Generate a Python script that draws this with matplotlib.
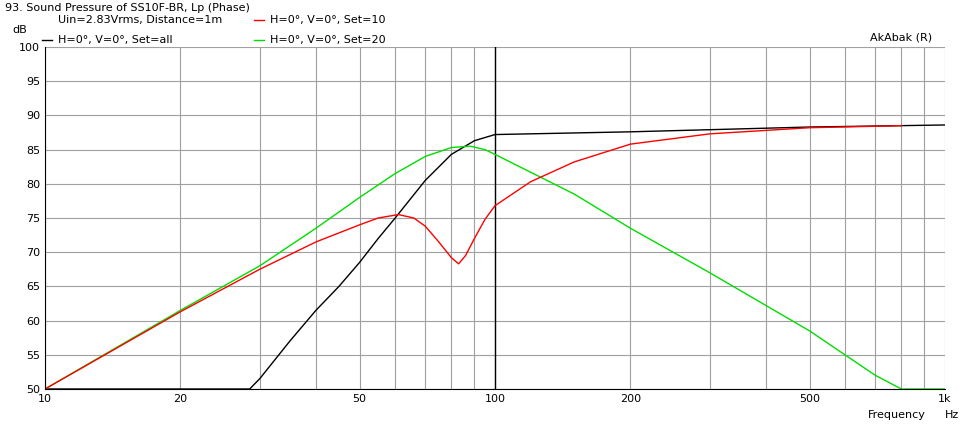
import matplotlib
matplotlib.use("Agg")
import matplotlib.pyplot as plt
import numpy as np

black_f = [10, 28.5, 30, 35, 40, 45, 50, 55, 60, 70, 80, 90, 100, 200, 500, 1000]
black_db = [50, 50, 51.5, 57, 61.5, 65, 68.5, 72, 75, 80.5, 84.3, 86.3, 87.2, 87.6, 88.3, 88.6]
red_f = [10, 20, 30, 40, 50, 55, 61, 66, 70, 75, 80, 83, 86, 90, 95, 100, 120, 150, 200, 300, 500, 800]
red_db = [50, 61.3, 67.5, 71.5, 74, 75, 75.5, 75, 73.8, 71.5, 69.2, 68.3, 69.5, 72, 74.8, 76.8, 80.3, 83.2, 85.8, 87.3, 88.2, 88.5]
green_f = [10, 20, 30, 40, 50, 60, 70, 80, 88, 95, 100, 150, 200, 300, 500, 700, 800, 1000]
green_db = [50, 61.5, 68, 73.5, 78, 81.5, 84, 85.3, 85.5, 85, 84.3, 78.5, 73.5, 67, 58.5, 52, 50, 50]
xticks = [10, 20, 50, 100, 200, 500, 1000]
xlabels = ["10", "20", "50", "100", "200", "500", "1k"]
yticks = list(range(50, 101, 5))

fig = plt.figure(figsize=(9.72, 4.28), dpi=100)
ax = fig.add_axes([45/972, 1-389/428, 900/972, 342/428])
ax.set_xscale("log")
ax.set_xlim(10, 1000)
ax.set_ylim(50, 100)
minor = [f*d for d in (10, 100) for f in range(1, 10)] + [1000]
for f in minor:
    ax.axvline(f, color="#a0a0a0", lw=0.8, zorder=0)
for y in yticks:
    ax.axhline(y, color="#a0a0a0", lw=0.8, zorder=0)
ax.axvline(100, color="black", lw=1.0, zorder=1)
ax.plot(black_f, black_db, color="black", lw=1)
ax.plot(green_f, green_db, color="#00dd00", lw=1)
ax.plot(red_f, red_db, color="red", lw=1)
ax.set_xticks(xticks)
ax.set_xticklabels(xlabels)
ax.xaxis.set_minor_locator(matplotlib.ticker.NullLocator())
ax.set_yticks(yticks)
ax.tick_params(labelsize=8, length=0)
for s in ["top", "right"]:
    ax.spines[s].set_visible(False)
fs = 8
fig.text(5/972, 1-8/428, "93. Sound Pressure of SS10F-BR, Lp (Phase)", fontsize=fs, va="center")
fig.text(12/972, 1-30/428, "dB", fontsize=fs, va="center")
fig.text(58/972, 1-20/428, "Uin=2.83Vrms, Distance=1m", fontsize=fs, va="center")
fig.text(58/972, 1-40/428, "H=0°, V=0°, Set=all", fontsize=fs, va="center")
fig.text(270/972, 1-20/428, "H=0°, V=0°, Set=10", fontsize=fs, va="center")
fig.text(270/972, 1-40/428, "H=0°, V=0°, Set=20", fontsize=fs, va="center")
fig.lines.append(plt.Line2D([42/972, 52/972], [1-40/428]*2, color="black", lw=1, transform=fig.transFigure))
fig.lines.append(plt.Line2D([254/972, 264/972], [1-20/428]*2, color="red", lw=1, transform=fig.transFigure))
fig.lines.append(plt.Line2D([254/972, 264/972], [1-40/428]*2, color="#00dd00", lw=1, transform=fig.transFigure))
fig.text(932/972, 1-38/428, "AkAbak (R)", fontsize=fs, va="center", ha="right")
fig.text(868/972, 1-415/428, "Frequency", fontsize=fs, va="center")
fig.text(945/972, 1-415/428, "Hz", fontsize=fs, va="center")
fig.savefig("out.png", dpi=100, facecolor="white")
